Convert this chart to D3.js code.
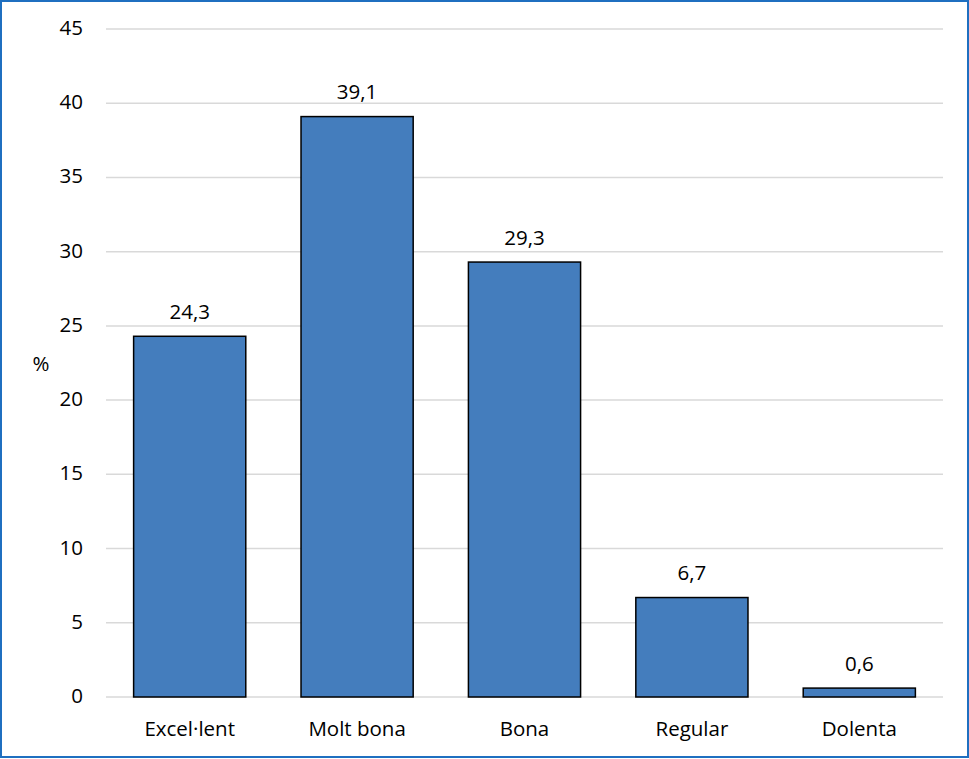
<!DOCTYPE html>
<html><head><meta charset="utf-8">
<script src="https://cdn.jsdelivr.net/npm/d3@7"></script>
<style>body{margin:0;background:#fff}svg{display:block}</style>
</head><body>
<script>
const categories = ["Excel·lent", "Molt bona", "Bona", "Regular", "Dolenta"];
const values = [24.3, 39.1, 29.3, 6.7, 0.6];
const yTicks = [0, 5, 10, 15, 20, 25, 30, 35, 40, 45];
const yLabel = "%";

const W = 969, H = 759;
const svg = d3.select("body").append("svg").attr("width", W).attr("height", H);
const font = "'Open Sans', 'Noto Sans', sans-serif";
const fs = 20.5;

svg.append("rect").attr("x", 1).attr("y", 1).attr("width", W - 2).attr("height", H - 3)
  .attr("fill", "#fff").attr("stroke", "#1f6fc0").attr("stroke-width", 2);

const pLeft = 106, pRight = 943, pTop = 29, pBottom = 697;
const x = d3.scaleBand().domain(categories).range([pLeft, pRight]).paddingInner(0.33).paddingOuter(0.165);
const y = d3.scaleLinear().domain([0, 45]).range([pBottom, pTop]);

svg.append("g").selectAll("line").data(yTicks).join("line")
  .attr("x1", pLeft).attr("x2", pRight)
  .attr("y1", d => y(d)).attr("y2", d => y(d))
  .attr("stroke", "#d9d9d9").attr("stroke-width", 1.5);

svg.append("g").selectAll("text").data(yTicks).join("text")
  .attr("x", 83).attr("y", d => y(d) + 6)
  .attr("text-anchor", "end").attr("font-family", font).attr("font-size", fs)
  .attr("fill", "#000").text(d => d);

svg.append("text").attr("x", 41).attr("y", 371)
  .attr("text-anchor", "middle").attr("font-family", font).attr("font-size", fs).text(yLabel);

svg.append("g").selectAll("rect").data(values).join("rect")
  .attr("x", (d, i) => x(categories[i])).attr("width", x.bandwidth())
  .attr("y", d => y(d)).attr("height", d => y(0) - y(d))
  .attr("fill", "#447dbd").attr("stroke", "#000").attr("stroke-width", 1.5);

svg.append("g").selectAll("text").data(values).join("text")
  .attr("x", (d, i) => x(categories[i]) + x.bandwidth() / 2)
  .attr("y", d => y(d) - 17.5)
  .attr("text-anchor", "middle").attr("font-family", font).attr("font-size", fs)
  .text(d => d3.format(".1f")(d).replace(".", ","));

svg.append("g").selectAll("text").data(categories).join("text")
  .attr("x", d => x(d) + x.bandwidth() / 2).attr("y", 736)
  .attr("text-anchor", "middle").attr("font-family", font).attr("font-size", fs)
  .text(d => d);
</script>
</body></html>
